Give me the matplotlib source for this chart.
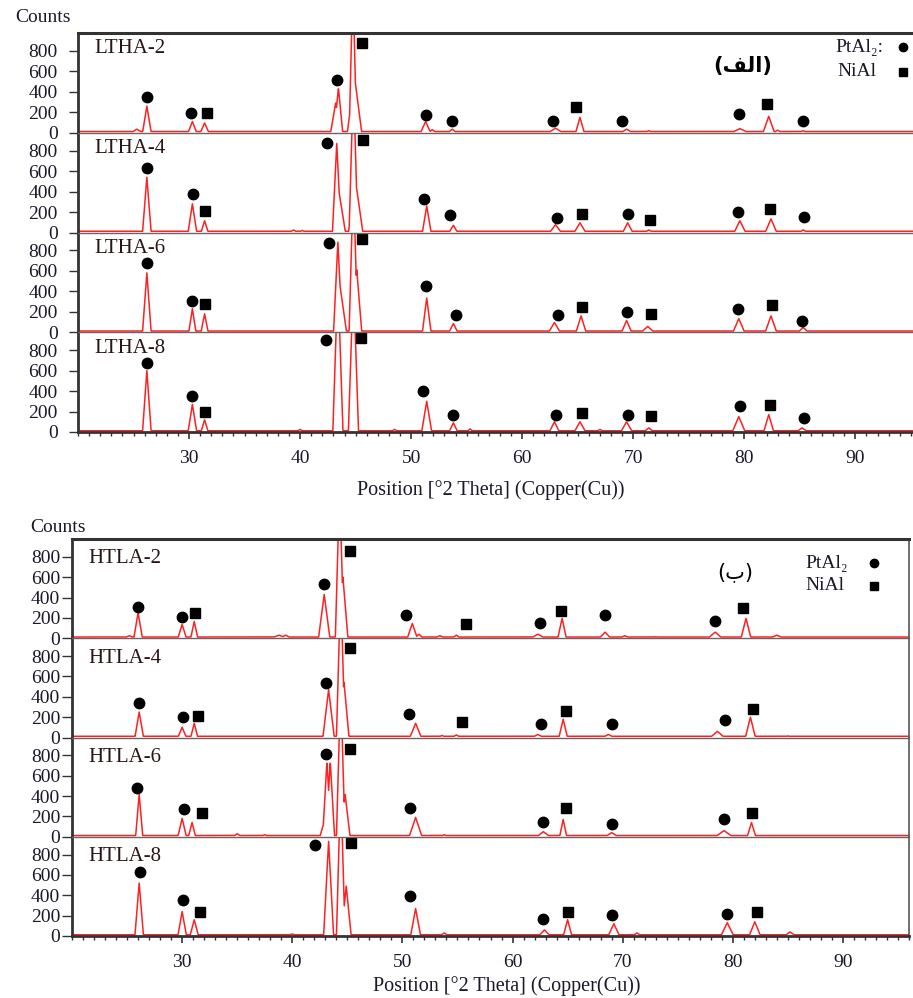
import numpy as np
import matplotlib
matplotlib.use('Agg')
import matplotlib.pyplot as plt
from matplotlib.ticker import MultipleLocator

# ---- data: peaks as (2theta, counts, half width) ----
BASELINE = 12

LTHA2_PEAKS = [(25.3, 35, 0.4), (26.2, 260, 0.3), (30.3, 110, 0.3), (31.4, 95, 0.3),
               (43.2, 290, 0.35), (43.45, 440, 0.3), (44.75, 1500, 0.25), (44.9, 550, 0.5),
               (51.3, 110, 0.35), (51.9, 30, 0.3), (53.7, 35, 0.3), (63.0, 45, 0.5),
               (65.2, 150, 0.3), (69.4, 35, 0.4), (71.4, 20, 0.3), (79.6, 40, 0.6),
               (82.2, 160, 0.4), (83.0, 25, 0.3), (85.3, 20, 0.3)]
LTHA4_PEAKS = [(26.2, 540, 0.3), (30.3, 280, 0.3), (31.4, 115, 0.25), (39.4, 25, 0.3),
               (40.2, 20, 0.3), (43.3, 870, 0.3), (43.5, 400, 0.45), (44.8, 1500, 0.3),
               (45.0, 500, 0.5), (51.4, 260, 0.3), (53.8, 70, 0.3), (63.0, 76, 0.4),
               (65.2, 95, 0.4), (69.5, 95, 0.35), (71.4, 25, 0.3), (79.6, 115, 0.4),
               (82.4, 133, 0.4), (85.3, 25, 0.3)]
LTHA6_PEAKS = [(26.2, 580, 0.3), (30.3, 230, 0.25), (31.4, 180, 0.25), (43.4, 880, 0.3),
               (43.6, 450, 0.45), (44.8, 1500, 0.3), (45.1, 610, 0.35), (51.4, 335, 0.3),
               (53.8, 85, 0.3), (62.9, 95, 0.4), (65.3, 160, 0.35), (69.4, 115, 0.35),
               (71.3, 57, 0.45), (79.5, 133, 0.4), (82.4, 160, 0.4), (85.3, 48, 0.35)]
LTHA8_PEAKS = [(26.2, 600, 0.3), (30.3, 270, 0.3), (31.4, 120, 0.25), (40.0, 25, 0.3),
               (43.4, 1500, 0.35), (44.8, 1500, 0.35), (48.5, 25, 0.3), (51.4, 300, 0.35),
               (53.8, 90, 0.3), (55.3, 30, 0.25), (62.9, 100, 0.35), (65.2, 100, 0.4),
               (67.0, 25, 0.3), (69.4, 100, 0.4), (71.4, 40, 0.35), (79.5, 150, 0.45),
               (82.2, 170, 0.35), (85.2, 40, 0.4)]

HTLA2_PEAKS = [(25.2, 25, 0.4), (26.0, 250, 0.3), (30.0, 135, 0.3), (31.1, 165, 0.25),
               (38.8, 30, 0.6), (39.4, 30, 0.4), (42.9, 430, 0.4), (44.3, 1500, 0.3),
               (44.6, 600, 0.35), (50.9, 145, 0.35), (51.5, 40, 0.3), (53.4, 25, 0.4),
               (54.9, 30, 0.3), (62.3, 40, 0.5), (64.5, 195, 0.3), (68.4, 60, 0.4),
               (70.2, 25, 0.4), (73.0, 15, 0.4), (78.4, 60, 0.5), (81.2, 195, 0.35),
               (84.0, 30, 0.5)]
HTLA4_PEAKS = [(26.1, 250, 0.3), (30.0, 100, 0.3), (31.1, 140, 0.25), (43.3, 470, 0.4),
               (44.4, 1500, 0.3), (44.7, 540, 0.35), (51.2, 140, 0.4), (53.6, 20, 0.3),
               (54.9, 25, 0.3), (62.3, 30, 0.4), (64.6, 180, 0.3), (68.7, 30, 0.4),
               (78.6, 60, 0.5), (81.6, 200, 0.35), (85.0, 15, 0.4)]
HTLA6_PEAKS = [(26.1, 415, 0.25), (30.0, 180, 0.3), (30.9, 140, 0.25), (35.0, 30, 0.3),
               (37.5, 20, 0.3), (42.9, 150, 0.3), (43.15, 740, 0.3), (43.45, 740, 0.3),
               (44.4, 1500, 0.3), (44.8, 415, 0.35), (51.2, 190, 0.45), (53.8, 20, 0.3),
               (62.8, 50, 0.45), (64.6, 170, 0.25), (69.0, 40, 0.45), (79.2, 60, 0.6),
               (81.7, 140, 0.3)]
HTLA8_PEAKS = [(26.1, 520, 0.3), (30.0, 240, 0.3), (31.1, 160, 0.3), (40.0, 20, 0.4),
               (43.3, 930, 0.35), (44.4, 1500, 0.3), (44.9, 490, 0.35), (51.2, 270, 0.35),
               (53.8, 30, 0.3), (62.9, 60, 0.4), (65.0, 160, 0.3), (69.2, 120, 0.4),
               (71.3, 30, 0.3), (79.5, 130, 0.45), (82.0, 140, 0.4), (85.2, 40, 0.4)]

# phase markers (2theta, counts)
LTHA2_PTAL2 = [(26.2, 350), (30.2, 190), (43.3, 520), (51.3, 170), (53.7, 110),
               (62.8, 110), (69.0, 110), (79.5, 180), (85.3, 110)]
LTHA2_NIAL = [(31.6, 190), (45.6, 880), (64.8, 250), (82.0, 280)]
LTHA4_PTAL2 = [(26.2, 630), (30.4, 380), (42.4, 870), (51.2, 330), (53.5, 170),
               (63.1, 140), (69.5, 180), (79.4, 200), (85.4, 150)]
LTHA4_NIAL = [(31.4, 210), (45.7, 900), (65.4, 180), (71.5, 120), (82.3, 230)]
LTHA6_PTAL2 = [(26.2, 680), (30.3, 310), (42.6, 870), (51.3, 450), (54.0, 170),
               (63.2, 170), (69.4, 200), (79.4, 230), (85.2, 110)]
LTHA6_NIAL = [(31.4, 280), (45.6, 910), (65.4, 250), (71.6, 180), (82.5, 270)]
LTHA8_PTAL2 = [(26.2, 670), (30.3, 350), (42.3, 900), (51.1, 400), (53.8, 170),
               (63.0, 170), (69.5, 170), (79.6, 250), (85.4, 140)]
LTHA8_NIAL = [(31.4, 200), (45.5, 920), (65.4, 190), (71.6, 160), (82.3, 260)]

HTLA2_PTAL2 = [(26.0, 310), (30.0, 210), (42.9, 530), (50.3, 230), (62.5, 150),
               (68.4, 230), (78.4, 170)]
HTLA2_NIAL = [(31.2, 250), (45.2, 860), (55.8, 140), (64.4, 270), (80.9, 300)]
HTLA4_PTAL2 = [(26.1, 340), (30.1, 200), (43.1, 540), (50.6, 230), (62.6, 130),
               (69.0, 130), (79.3, 170)]
HTLA4_NIAL = [(31.4, 210), (45.2, 880), (55.4, 150), (64.9, 260), (81.8, 280)]
HTLA6_PTAL2 = [(25.9, 480), (30.2, 270), (43.1, 810), (50.7, 280), (62.8, 140),
               (69.0, 130), (79.2, 170)]
HTLA6_NIAL = [(31.8, 230), (45.2, 860), (64.9, 280), (81.7, 230)]
HTLA8_PTAL2 = [(26.2, 630), (30.1, 350), (42.1, 890), (50.7, 390), (62.8, 170),
               (69.0, 210), (79.5, 220)]
HTLA8_NIAL = [(31.6, 240), (45.3, 910), (65.0, 240), (82.2, 240)]

TOP_NAMES = ['LTHA-2', 'LTHA-4', 'LTHA-6', 'LTHA-8']
BOT_NAMES = ['HTLA-2', 'HTLA-4', 'HTLA-6', 'HTLA-8']
Y_TICKS = [0, 200, 400, 600, 800]
X_TICKS = [30, 40, 50, 60, 70, 80, 90]

W, H = 913, 998
theta = np.arange(20, 96.01, 0.02)

plt.rcParams['font.family'] = ['Liberation Serif', 'DejaVu Serif']
fig = plt.figure(figsize=(W / 100, H / 100), dpi=100)

TXT = '#1a1a2a'
SPINE = '#333333'


def profile(peaks):
    y = np.full_like(theta, BASELINE, dtype=float)
    for pos, h, hw in peaks:
        hw = hw * 1.3
        y = np.maximum(y, h * (1 - np.abs(theta - pos) / hw))
    return y


def draw_group(top_px, panel_px, left_px, width_px, names, peaks, ptal, nial,
               label_y, right_spine, tlen, tpad):
    n = len(names)
    for i in range(n):
        bottom = 1 - (top_px + (i + 1) * panel_px) / H
        ax = fig.add_axes([left_px / W, bottom, width_px / W, panel_px / H])
        ax.plot(theta, profile(peaks[i]), color='#ff2020', lw=1.1)
        px, py = zip(*ptal[i])
        ax.plot(px, py, 'o', ls='none', color='k', ms=7.5, clip_on=False)
        qx, qy = zip(*nial[i])
        ax.plot(qx, qy, 's', ls='none', color='k', ms=7, clip_on=False)
        ax.set_xlim(20, 96)
        ax.set_ylim(0, 975)
        ax.set_yticks(Y_TICKS)
        ax.tick_params(axis='y', direction='out', length=tlen, pad=tpad,
                       labelsize=14, colors=SPINE, labelcolor=TXT, width=1)
        ax.text(0.019, label_y, names[i], transform=ax.transAxes, fontsize=15,
                va='center', ha='left', color='#2a1515')
        ax.spines['left'].set_linewidth(2)
        ax.spines['left'].set_color(SPINE)
        if i == 0:
            ax.spines['top'].set_linewidth(2.2)
            ax.spines['top'].set_color(SPINE)
        else:
            ax.spines['top'].set_linewidth(1)
            ax.spines['top'].set_color('#666666')
        ax.spines['right'].set_visible(right_spine)
        ax.spines['right'].set_color('#555555')
        ax.spines['right'].set_linewidth(1.2)
        if i == n - 1:
            ax.spines['bottom'].set_linewidth(2)
            ax.spines['bottom'].set_color(SPINE)
            ax.set_xticks(X_TICKS)
            ax.xaxis.set_minor_locator(MultipleLocator(1))
            ax.tick_params(axis='x', which='major', direction='out', length=5,
                           width=1.2, pad=8, labelsize=14, colors=SPINE, labelcolor=TXT)
            ax.tick_params(axis='x', which='minor', direction='out', length=3,
                           width=1, colors=SPINE)
        else:
            ax.spines['bottom'].set_visible(False)
            ax.set_xticks([])
    return


# top group (الف)
draw_group(33, 99.75, 78, 844, TOP_NAMES,
           [LTHA2_PEAKS, LTHA4_PEAKS, LTHA6_PEAKS, LTHA8_PEAKS],
           [LTHA2_PTAL2, LTHA4_PTAL2, LTHA6_PTAL2, LTHA8_PTAL2],
           [LTHA2_NIAL, LTHA4_NIAL, LTHA6_NIAL, LTHA8_NIAL],
           0.84, False, 6.5, 8)

# bottom group (ب)
draw_group(539, 99.25, 72, 837, BOT_NAMES,
           [HTLA2_PEAKS, HTLA4_PEAKS, HTLA6_PEAKS, HTLA8_PEAKS],
           [HTLA2_PTAL2, HTLA4_PTAL2, HTLA6_PTAL2, HTLA8_PTAL2],
           [HTLA2_NIAL, HTLA4_NIAL, HTLA6_NIAL, HTLA8_NIAL],
           0.80, True, 7, 1.5)


def fx(x):
    return x / W


def fy(y):
    return 1 - y / H


# axis titles
fig.text(fx(43), fy(17), 'Counts', fontsize=14, ha='center', va='center', color=TXT)
fig.text(fx(58), fy(527), 'Counts', fontsize=14, ha='center', va='center', color=TXT)
xlab = 'Position [°2 Theta] (Copper(Cu))'
fig.text(fx(491), fy(490), xlab, fontsize=14.5, ha='center', va='center', color=TXT)
fig.text(fx(507), fy(986), xlab, fontsize=14.5, ha='center', va='center', color=TXT)

# legends
fig.text(fx(835), fy(47), 'PtAl₂:', fontsize=14, ha='left', va='center', color=TXT)
fig.text(fx(837), fy(72), 'NiAl', fontsize=14, ha='left', va='center', color=TXT)
fig.text(fx(805), fy(563), 'PtAl₂', fontsize=14, ha='left', va='center', color=TXT)
fig.text(fx(805), fy(586), 'NiAl', fontsize=14, ha='left', va='center', color=TXT)
fig.add_artist(plt.Line2D([fx(903)], [fy(47)], marker='o', ms=6, color='k',
                          transform=fig.transFigure))
fig.add_artist(plt.Line2D([fx(903)], [fy(72)], marker='s', ms=6, color='k',
                          transform=fig.transFigure))
fig.add_artist(plt.Line2D([fx(874)], [fy(563)], marker='o', ms=6, color='k',
                          transform=fig.transFigure))
fig.add_artist(plt.Line2D([fx(874)], [fy(586)], marker='s', ms=6, color='k',
                          transform=fig.transFigure))

# Arabic panel labels (visual order, presentation forms)
fig.text(fx(743), fy(66), '(\ufed2\ufedf\ufe8d)', fontsize=15, fontweight='bold',
         family=['DejaVu Sans'], ha='center', va='center', color='k')
fig.text(fx(735), fy(572), '(\ufe8f)', fontsize=15, family=['DejaVu Sans'],
         ha='center', va='center', color='k')

fig.savefig('out.png', dpi=100)
